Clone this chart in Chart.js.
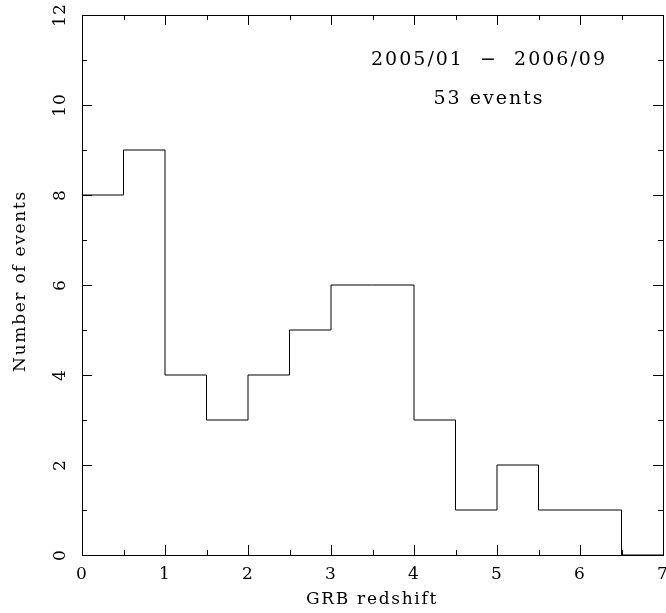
<!DOCTYPE html>
<html>
<head>
<meta charset="utf-8">
<script src="https://cdn.jsdelivr.net/npm/chart.js@4/dist/chart.umd.min.js"></script>
<style>
  html, body { margin: 0; padding: 0; background: #fff; }
  #wrap { width: 666px; height: 613px; }
</style>
</head>
<body>
<div id="wrap"><canvas id="chart" width="666" height="613"></canvas></div>
<script>
// histogram of GRB redshifts, bins of 0.5
var binEdges = [0, 0.5, 1, 1.5, 2, 2.5, 3, 3.5, 4, 4.5, 5, 5.5, 6, 6.5, 7];
var counts = [8, 9, 4, 3, 4, 5, 6, 6, 3, 1, 2, 1, 1, 0];
var xTicks = ['0', '1', '2', '3', '4', '5', '6', '7'];
var yTicks = ['0', '2', '4', '6', '8', '10', '12'];
var notes = ['2005/01  \u2212  2006/09', '53 events'];

var FONT = '"DejaVu Serif", "Liberation Serif", serif';

var points = [];
for (var i = 0; i < counts.length; i++) {
  points.push({x: binEdges[i], y: counts[i]});
}
points.push({x: binEdges[binEdges.length - 1], y: counts[counts.length - 1]});

var frame = {
  id: 'frame',
  afterDraw: function(chart) {
    var ctx = chart.ctx;
    var a = chart.chartArea;
    var xs = chart.scales.x, ys = chart.scales.y;
    ctx.save();
    ctx.strokeStyle = '#000';
    ctx.lineWidth = 1;
    ctx.strokeRect(a.left + 0.5, a.top + 0.5, a.right - a.left, a.bottom - a.top);

    ctx.beginPath();
    for (var v = 0; v <= 7; v += 0.5) {
      var px = Math.round(xs.getPixelForValue(v)) + 0.5;
      var len = (v % 1 === 0) ? 10 : 5;
      ctx.moveTo(px, a.bottom); ctx.lineTo(px, a.bottom - len);
      ctx.moveTo(px, a.top); ctx.lineTo(px, a.top + len);
    }
    for (var w = 0; w <= 12; w += 1) {
      var py = Math.round(ys.getPixelForValue(w)) + 0.5;
      var l2 = (w % 2 === 0) ? 10 : 5;
      ctx.moveTo(a.left, py); ctx.lineTo(a.left + l2, py);
      ctx.moveTo(a.right, py); ctx.lineTo(a.right - l2, py);
    }
    ctx.stroke();

    ctx.fillStyle = '#000';
    ctx.font = '17px ' + FONT;
    ctx.letterSpacing = '1px';
    ctx.textAlign = 'center';
    ctx.textBaseline = 'middle';
    xTicks.forEach(function(t) {
      ctx.fillText(t, xs.getPixelForValue(+t), a.bottom + 20);
    });
    yTicks.forEach(function(t) {
      ctx.save();
      ctx.translate(a.left - 21, ys.getPixelForValue(+t));
      ctx.rotate(-Math.PI / 2);
      ctx.fillText(t, 0, 0);
      ctx.restore();
    });

    ctx.letterSpacing = '1.7px';
    ctx.fillText('GRB redshift', 372, 600);
    ctx.save();
    ctx.translate(21, 281);
    ctx.rotate(-Math.PI / 2);
    ctx.fillText('Number of events', 0, 0);
    ctx.restore();

    ctx.font = '19px ' + FONT;
    ctx.letterSpacing = '2px';
    ctx.fillText(notes[0], 489, 60);
    ctx.fillText(notes[1], 489, 99);
    ctx.restore();
  }
};

new Chart(document.getElementById('chart'), {
  type: 'line',
  data: {
    datasets: [{
      data: points,
      stepped: 'before',
      borderColor: '#000',
      borderWidth: 1,
      pointRadius: 0,
      fill: false
    }]
  },
  options: {
    responsive: false,
    animation: false,
    layout: {padding: {left: 0, right: 3, top: 15, bottom: 0}},
    plugins: {legend: {display: false}, tooltip: {enabled: false}},
    scales: {
      x: {
        type: 'linear', min: 0, max: 7,
        grid: {display: false}, border: {display: false},
        ticks: {display: false},
        afterFit: function(s) { s.height = 58; }
      },
      y: {
        min: 0, max: 12,
        grid: {display: false}, border: {display: false},
        ticks: {display: false},
        afterFit: function(s) { s.width = 82; }
      }
    }
  },
  plugins: [frame]
});
</script>
</body>
</html>
